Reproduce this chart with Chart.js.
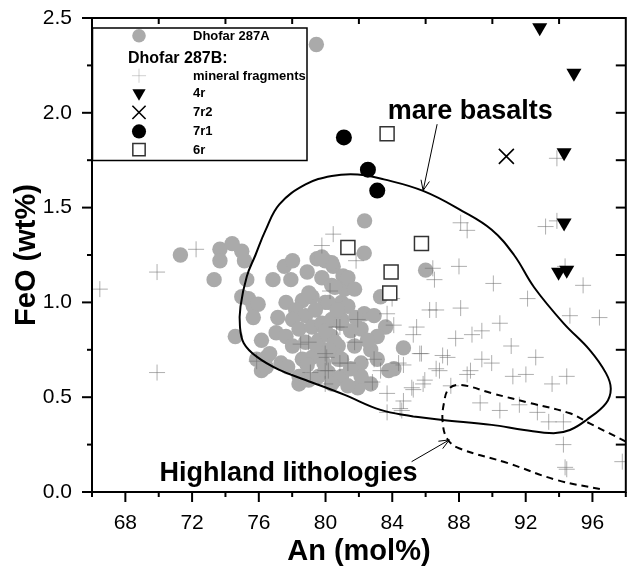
<!DOCTYPE html>
<html lang="en">
<head>
<meta charset="UTF-8">
<title>Dhofar 287 - FeO vs An</title>
<style>
  html, body { margin: 0; padding: 0; background: #fff; }
  #wrap { width: 638px; height: 569px; }
</style>
</head>
<body>
<div id="wrap"><canvas id="chart" width="638" height="569"></canvas></div>

<script src="https://cdn.jsdelivr.net/npm/chart.js"></script>
<script>
// ---- axes ----
const xTicks = [68, 72, 76, 80, 84, 88, 92, 96];
const xMinorTicks = [66, 70, 74, 78, 82, 86, 90, 94, 98];
const xTopTicks = [70, 74, 78, 82, 86, 90, 94];
const yTicks = [0, 0.5, 1.0, 1.5, 2.0, 2.5];
const yMinorTicks = [0.25, 0.75, 1.25, 1.75, 2.25];
const yRightTicks = [0.25, 0.5, 0.75, 1.0, 1.25, 1.5, 1.75, 2.0, 2.25];

// ---- data: [An mol%, FeO wt%] ----
const dhofar287A = [
    [79.45, 2.36], [82.34, 1.43], [82.32, 1.26], [86.0, 1.17], [84.67, 0.76], [84.1, 0.65],
    [71.3, 1.25], [73.32, 1.12], [73.67, 1.28], [74.4, 1.31], [73.67, 1.22], [74.98, 1.27],
    [75.14, 1.22], [75.28, 1.12], [74.98, 1.03], [74.59, 0.82], [75.38, 1.02], [75.67, 0.98],
    [75.96, 0.99], [75.67, 0.92], [76.16, 0.80], [75.87, 0.70], [76.16, 0.64], [76.45, 0.71],
    [76.85, 1.12], [77.53, 1.19], [78.02, 1.22], [77.92, 1.12], [77.63, 1.0], [77.14, 0.92],
    [77.04, 0.84], [77.33, 0.68], [77.73, 0.66], [78.9, 1.16], [79.49, 1.23], [79.98, 1.22],
    [80.46, 1.19], [79.78, 1.13], [80.37, 1.09], [78.61, 1.01], [79.19, 1.03], [78.21, 0.96],
    [78.8, 0.93], [79.39, 0.96], [79.98, 1.0], [78.02, 0.91], [78.41, 0.86], [79.19, 0.87],
    [79.78, 0.89], [80.37, 0.91], [77.63, 0.82], [78.02, 0.77], [78.8, 0.79], [79.58, 0.80],
    [80.37, 0.82], [78.61, 0.70], [79.19, 0.71], [79.78, 0.73], [78.41, 0.61], [78.99, 0.59],
    [79.58, 0.61], [80.17, 0.63], [80.56, 0.59], [78.41, 0.57], [80.76, 0.70], [80.96, 1.0],
    [81.05, 1.14], [81.15, 1.07], [80.96, 0.91], [80.76, 0.77], [76.65, 0.73], [76.45, 0.66],
    [83.3, 1.03], [83.6, 0.87], [83.79, 0.64], [82.71, 0.57], [81.93, 0.55], [80.37, 1.21],
    [79.78, 1.24], [81.34, 1.13], [81.74, 1.07], [80.56, 1.08], [82.32, 0.94], [82.91, 0.93],
    [81.34, 0.98], [80.17, 1.0], [80.96, 0.89], [82.13, 0.86], [83.1, 0.82], [82.71, 0.75],
    [81.74, 0.77], [80.56, 0.79], [79.78, 0.73], [80.96, 0.70], [82.13, 0.68], [83.1, 0.70],
    [79.98, 0.64], [80.96, 0.61], [82.13, 0.61], [80.37, 0.57], [81.34, 0.56],
    [79.0, 1.05], [80.0, 0.85], [79.4, 0.78], [80.2, 0.75], [81.5, 0.85], [81.8, 0.92],
    [80.7, 0.96], [78.9, 0.67], [81.5, 0.65], [82.5, 0.80], [79.9, 0.68]
];
const mineralFragments = [
    [66.47, 1.07], [69.9, 1.16], [69.9, 0.63], [72.24, 1.28],
    [80.46, 1.36], [79.78, 1.30], [80.27, 1.06], [78.51, 0.78], [78.99, 0.79], [75.87, 0.69],
    [80.07, 0.71], [79.09, 0.63], [79.98, 0.64], [79.98, 0.57], [80.66, 0.87], [80.86, 0.68],
    [81.83, 1.22], [83.99, 1.02], [81.93, 0.91], [80.86, 0.87], [84.09, 0.88], [85.46, 0.87],
    [81.74, 0.79], [83.69, 0.94], [85.26, 0.83], [79.98, 0.73], [81.34, 0.68], [82.91, 0.70],
    [83.3, 0.64], [84.38, 0.68], [85.65, 0.73], [82.81, 0.58], [83.69, 0.52], [84.67, 0.48],
    [85.85, 0.57], [85.26, 0.54], [80.17, 0.64], [83.69, 0.42], [84.47, 0.44], [86.24, 0.96],
    [93.87, 1.76], [88.1, 1.42], [88.49, 1.38], [93.19, 1.40], [93.87, 1.43], [88.0, 1.19],
    [86.43, 1.18], [86.53, 1.12], [90.06, 1.10], [95.44, 1.09], [94.36, 1.19],
    [86.63, 0.96], [88.1, 0.97], [92.11, 1.02], [94.65, 0.93], [96.42, 0.92], [90.45, 0.89],
    [87.8, 0.81], [88.78, 0.83], [89.37, 0.85], [91.13, 0.77], [92.6, 0.71], [85.75, 0.73],
    [87.02, 0.72], [84.67, 0.67], [86.63, 0.65], [87.31, 0.71], [89.37, 0.70], [89.96, 0.68],
    [88.69, 0.64], [91.23, 0.61], [92.01, 0.62], [94.46, 0.61], [86.83, 0.64], [85.95, 0.59],
    [87.51, 0.56], [88.49, 0.62], [93.58, 0.57], [85.17, 0.55], [89.27, 0.47], [90.45, 0.43],
    [91.62, 0.46], [92.7, 0.42], [93.38, 0.37], [94.26, 0.37], [84.57, 0.43], [94.26, 0.25],
    [94.36, 0.13], [94.46, 0.12], [97.79, 0.16]
];
const sample4r = [[92.84, 2.45], [94.89, 2.21], [94.3, 1.79], [94.3, 1.42], [93.97, 1.16], [94.46, 1.17]];
const sample7r2 = [[90.84, 1.77]];
const sample7r1 = [[81.1, 1.87], [82.54, 1.70], [83.1, 1.59]];
const sample6r = [[83.69, 1.89], [81.34, 1.29], [85.75, 1.31], [83.93, 1.16], [83.85, 1.05]];

// field outlines
const mareBasalts = [
    [85.26, 0.398], [87.02, 0.38], [89.96, 0.354], [91.91, 0.327], [93.67, 0.31], [94.65, 0.327],
    [95.64, 0.38], [96.81, 0.468], [97.1, 0.545], [96.81, 0.627], [95.83, 0.75], [94.26, 0.891],
    [92.5, 1.08], [91.3, 1.25], [89.96, 1.383], [88.2, 1.482], [85.85, 1.588], [83.5, 1.649],
    [81.93, 1.675], [80.37, 1.667], [78.8, 1.622], [77.23, 1.517], [76.4, 1.38], [75.8, 1.25],
    [75.28, 1.137], [74.9, 0.978], [74.87, 0.873], [75.1, 0.785], [75.87, 0.714], [77.23, 0.644],
    [78.8, 0.591], [81.15, 0.512], [83.3, 0.433], [85.26, 0.398]
];
const highlandLithologies = [
    [98.0, 0.266], [97.0, 0.31], [95.83, 0.362], [94.65, 0.415], [92.31, 0.468], [89.96, 0.521],
    [88.1, 0.565], [87.4, 0.545], [87.1, 0.47], [87.02, 0.37], [87.3, 0.28], [88.0, 0.231],
    [90.94, 0.152], [93.87, 0.063], [96.65, 0.012]
];

// text labels and arrows in data units
const fieldLabels = [
    {text: 'mare basalts', x: 83.73, y: 1.966},
    {text: 'Highland lithologies', x: 70.05, y: 0.058}
];
const fieldArrows = [
    {from: [86.69, 1.94], to: [85.85, 1.59]},
    {from: [85.16, 0.16], to: [87.42, 0.275]}
];

const FONT = "'Liberation Sans', Arial, Helvetica, sans-serif";
Chart.defaults.font.family = FONT;
Chart.defaults.color = '#000';

const pts = a => a.map(([x, y]) => ({x, y}));

const marks = {
    a287:  {pointStyle: 'circle',   radius: 7.7,  rotation: 0,   borderWidth: 0,   fill: '#aaaaaa', stroke: '#aaaaaa'},
    frag:  {pointStyle: 'cross',    radius: 8,    rotation: 0,   borderWidth: 1,   fill: 'rgba(0,0,0,0)', stroke: 'rgba(110,110,110,0.55)'},
    r4:    {pointStyle: 'triangle', radius: 8.7,  rotation: 180, borderWidth: 0,   fill: '#000', stroke: '#000'},
    r7r2:  {pointStyle: 'crossRot', radius: 10.6, rotation: 0,   borderWidth: 1.6, fill: 'rgba(0,0,0,0)', stroke: '#000'},
    r7r1:  {pointStyle: 'circle',   radius: 8,    rotation: 0,   borderWidth: 0,   fill: '#000', stroke: '#000'},
    r6:    {pointStyle: 'rect',     radius: 9.9,  rotation: 0,   borderWidth: 1.5, fill: '#fff', stroke: '#333'}
};

function series(label, data, m, order) {
    return {
        label: label,
        data: pts(data),
        order: order,
        showLine: false,
        pointStyle: m.pointStyle,
        pointRadius: m.radius,
        pointHoverRadius: m.radius,
        pointRotation: m.rotation,
        pointBackgroundColor: m.fill,
        pointBorderColor: m.stroke,
        pointBorderWidth: m.borderWidth
    };
}

function outline(label, data, dash) {
    return {
        label: label,
        data: pts(data),
        order: 5,
        showLine: true,
        tension: 0.4,
        borderColor: '#000',
        borderWidth: 2,
        borderDash: dash,
        pointRadius: 0,
        fill: false
    };
}

function drawArrow(ctx, x1, y1, x2, y2) {
    const ang = Math.atan2(y2 - y1, x2 - x1);
    const h = 11, spread = 0.4;
    ctx.beginPath();
    ctx.moveTo(x1, y1);
    ctx.lineTo(x2, y2);
    ctx.moveTo(x2 - h * Math.cos(ang - spread), y2 - h * Math.sin(ang - spread));
    ctx.lineTo(x2, y2);
    ctx.lineTo(x2 - h * Math.cos(ang + spread), y2 - h * Math.sin(ang + spread));
    ctx.stroke();
}

// frame, extra ticks, labels, arrows and the legend box
const decorations = {
    id: 'decorations',
    afterDraw(chart) {
        const {ctx, chartArea: a, scales: {x, y}} = chart;
        ctx.save();
        ctx.strokeStyle = '#000';
        ctx.lineWidth = 2;
        ctx.strokeRect(a.left, a.top, a.right - a.left, a.bottom - a.top);

        const line = (x1, y1, x2, y2) => {
            ctx.beginPath(); ctx.moveTo(x1, y1); ctx.lineTo(x2, y2); ctx.stroke();
        };
        xTicks.forEach(v => { const p = x.getPixelForValue(v); line(p, a.bottom, p, a.bottom + 10); });
        xMinorTicks.forEach(v => { const p = x.getPixelForValue(v); line(p, a.bottom, p, a.bottom + 5); });
        xTopTicks.forEach(v => { const p = x.getPixelForValue(v); line(p, a.top, p, a.top + 6); });
        yTicks.forEach(v => { const p = y.getPixelForValue(v); line(a.left - 10, p, a.left, p); });
        yMinorTicks.forEach(v => { const p = y.getPixelForValue(v); line(a.left - 5, p, a.left, p); });
        yRightTicks.forEach(v => { const p = y.getPixelForValue(v); line(a.right - 10, p, a.right, p); });

        // field labels + arrows
        ctx.fillStyle = '#000';
        ctx.font = 'bold 27px ' + FONT;
        ctx.textAlign = 'left';
        ctx.textBaseline = 'alphabetic';
        fieldLabels.forEach(l => ctx.fillText(l.text, x.getPixelForValue(l.x), y.getPixelForValue(l.y)));
        ctx.lineWidth = 1;
        fieldArrows.forEach(r => drawArrow(ctx,
            x.getPixelForValue(r.from[0]), y.getPixelForValue(r.from[1]),
            x.getPixelForValue(r.to[0]), y.getPixelForValue(r.to[1])));

        // legend
        const bx = a.left + 0.5, by = a.top + 10, bw = 214.5, bh = 132.5;
        ctx.fillStyle = '#fff';
        ctx.fillRect(bx, by, bw, bh);
        ctx.lineWidth = 1.5;
        ctx.strokeStyle = '#000';
        ctx.strokeRect(bx, by, bw, bh);

        const mx = bx + 46.5, tx = bx + 100.5;
        const rows = [
            {m: marks.a287, text: 'Dhofar 287A', dy: 7.7},
            {m: marks.frag, text: 'mineral fragments', dy: 47.7},
            {m: marks.r4, text: '4r', dy: 65},
            {m: marks.r7r2, text: '7r2', dy: 84.4},
            {m: marks.r7r1, text: '7r1', dy: 103.4},
            {m: marks.r6, text: '6r', dy: 121.7}
        ];
        ctx.textBaseline = 'middle';
        rows.forEach(r => {
            const cy = by + r.dy;
            ctx.save();
            ctx.fillStyle = r.m.fill;
            ctx.strokeStyle = r.m === marks.frag ? 'rgba(150,150,150,0.45)' : r.m.stroke;
            ctx.lineWidth = r.m.borderWidth;
            Chart.helpers.drawPoint(ctx, {
                pointStyle: r.m.pointStyle,
                radius: r.m.radius * 0.88,
                rotation: r.m.rotation,
                borderWidth: r.m.borderWidth
            }, mx, cy);
            ctx.restore();
            ctx.fillStyle = '#000';
            ctx.font = 'bold 13px ' + FONT;
            ctx.fillText(r.text, tx, cy + 0.5);
        });
        ctx.font = 'bold 16px ' + FONT;
        ctx.fillText('Dhofar 287B:', bx + 35.5, by + 30.5);
        ctx.restore();
    }
};

new Chart(document.getElementById('chart'), {
    type: 'scatter',
    data: {
        datasets: [
            series('Dhofar 287A', dhofar287A, marks.a287, 7),
            series('mineral fragments', mineralFragments, marks.frag, 6),
            outline('mare basalts', mareBasalts, []),
            outline('Highland lithologies', highlandLithologies, [7, 5]),
            series('6r', sample6r, marks.r6, 3),
            series('7r1', sample7r1, marks.r7r1, 2),
            series('7r2', sample7r2, marks.r7r2, 1),
            series('4r', sample4r, marks.r4, 0)
        ]
    },
    options: {
        responsive: false,
        animation: false,
        events: [],
        devicePixelRatio: 1,
        layout: {padding: {top: 18, right: 1, left: 0, bottom: 0}},
        scales: {
            x: {
                type: 'linear',
                position: 'bottom',
                min: 66,
                max: 98,
                afterBuildTicks: s => { s.ticks = xTicks.map(v => ({value: v})); },
                afterFit: s => { s.height = 77; s.paddingLeft = 0; s.paddingRight = 0; },
                grid: {display: false, drawTicks: false},
                border: {display: false},
                ticks: {color: '#000', font: {size: 21}, padding: 19, maxRotation: 0, autoSkip: false},
                title: {
                    display: true,
                    text: 'An (mol%)',
                    color: '#000',
                    font: {size: 29, weight: 'bold', lineHeight: 1},
                    padding: {top: 0, bottom: 3}
                }
            },
            y: {
                type: 'linear',
                min: 0,
                max: 2.5,
                afterBuildTicks: s => { s.ticks = yTicks.map(v => ({value: v})); },
                afterFit: s => { s.width = 92; s.paddingTop = 0; s.paddingBottom = 0; },
                grid: {display: false, drawTicks: false},
                border: {display: false},
                ticks: {color: '#000', font: {size: 21}, padding: 20, callback: v => v.toFixed(1)},
                title: {
                    display: true,
                    text: 'FeO (wt%)',
                    color: '#000',
                    font: {size: 29, weight: 'bold', lineHeight: 1},
                    padding: {top: 12, bottom: 0}
                }
            }
        },
        plugins: {
            legend: {display: false},
            tooltip: {enabled: false}
        }
    },
    plugins: [decorations]
});
</script>
</body>
</html>
